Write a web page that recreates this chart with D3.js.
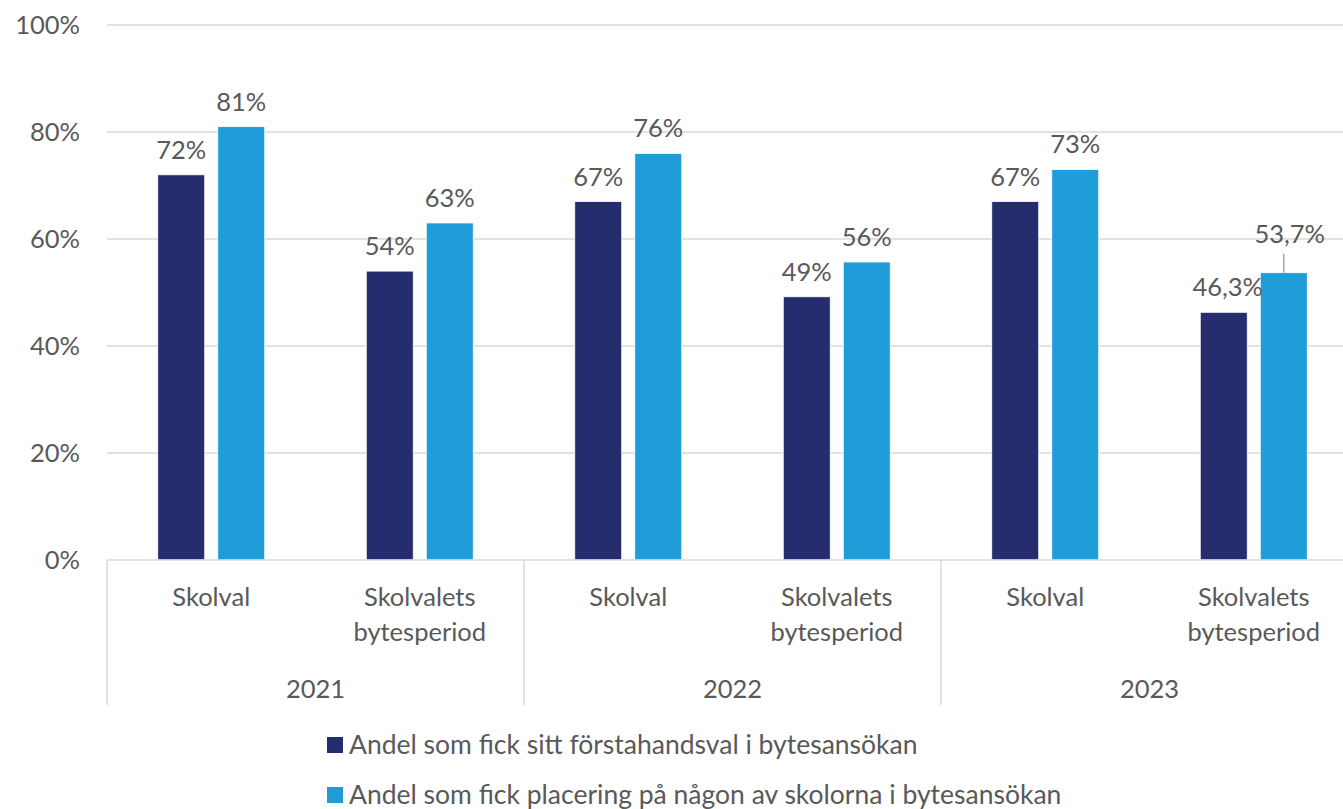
<!DOCTYPE html>
<html>
<head>
<meta charset="utf-8">
<script src="https://cdn.jsdelivr.net/npm/d3@7"></script>
<style>
    body { margin: 0; background: #fff; }
    svg { display: block; font-family: Lato, "Noto Sans", sans-serif; }
    text { fill: #595959; }
</style>
</head>
<body>
<svg id="chart" width="1343" height="809"></svg>
<script>
// data
const years = ["2021", "2022", "2023"];
const periods = ["Skolval", "Skolvalets bytesperiod"];
const seriesNames = [
    "Andel som fick sitt förstahandsval i bytesansökan",
    "Andel som fick placering på någon av skolorna i bytesansökan"
];
const firstChoice = [72, 54, 67, 49.2, 67, 46.3];
const anyChoice = [81, 63, 76, 55.7, 73, 53.7];
const firstLabels = ["72%", "54%", "67%", "49%", "67%", "46,3%"];
const anyLabels = ["81%", "63%", "76%", "56%", "73%", "53,7%"];
const yTicks = [0, 20, 40, 60, 80, 100];
const colors = ["#262d6e", "#1e9dd9"];

let svg = d3.select("#chart");
let plotLeft = 107, plotRight = 1358, plotTop = 25, plotBottom = 560;
let fs = 25.5;

let cats = [];
years.forEach(yr => periods.forEach(p => cats.push(yr + "|" + p)));

let x = d3.scaleBand().domain(cats).range([plotLeft, plotRight]);
let x1 = d3.scaleBand().domain([0, 1]).range([0, x.bandwidth()]).paddingInner(0.217).paddingOuter(0.846);
let y = d3.scaleLinear().domain([0, 100]).range([plotBottom, plotTop]);

// gridlines
svg.append("g").selectAll("line")
    .data(yTicks.filter(d => d > 0))
    .enter().append("line")
    .attr("x1", plotLeft).attr("x2", 1343)
    .attr("y1", d => y(d)).attr("y2", d => y(d))
    .attr("stroke", "#d9d9d9").attr("stroke-width", 1.5);

// y tick labels
svg.append("g").selectAll("text")
    .data(yTicks)
    .enter().append("text")
    .attr("x", 80).attr("y", d => y(d))
    .attr("dy", "0.35em")
    .attr("text-anchor", "end")
    .attr("font-size", fs)
    .text(d => d + "%");

// bars
let series = [firstChoice, anyChoice];
let labels = [firstLabels, anyLabels];
series.forEach((vals, s) => {
    svg.append("g").selectAll("rect")
        .data(vals)
        .enter().append("rect")
        .attr("x", (d, i) => x(cats[i]) + x1(s))
        .attr("width", x1.bandwidth())
        .attr("y", d => y(d))
        .attr("height", d => y(0) - y(d))
        .attr("fill", colors[s])
        .attr("stroke", "#fff").attr("stroke-width", 0.8);
});

// value labels
series.forEach((vals, s) => {
    svg.append("g").selectAll("text")
        .data(vals)
        .enter().append("text")
        .attr("x", (d, i) => x(cats[i]) + x1(s) + x1.bandwidth() / 2 + (i === 5 && s === 0 ? 4 : 0) + (i === 5 && s === 1 ? 6 : 0))
        .attr("y", (d, i) => y(d) - (i === 5 && s === 1 ? 30 : 16))
        .attr("text-anchor", "middle")
        .attr("font-size", fs)
        .text((d, i) => labels[s][i]);
});

// leader line for the last label
let lastX = x(cats[5]) + x1(1) + x1.bandwidth() / 2;
svg.append("line")
    .attr("x1", lastX).attr("x2", lastX)
    .attr("y1", y(anyChoice[5]) - 19).attr("y2", y(anyChoice[5]))
    .attr("stroke", "#a6a6a6").attr("stroke-width", 1.5);

// x axis line and year separators
svg.append("line")
    .attr("x1", plotLeft).attr("x2", 1343)
    .attr("y1", plotBottom).attr("y2", plotBottom)
    .attr("stroke", "#d9d9d9").attr("stroke-width", 1.5);

let yearW = (plotRight - plotLeft) / years.length;
svg.append("g").selectAll("line")
    .data(d3.range(years.length + 1))
    .enter().append("line")
    .attr("x1", d => plotLeft + d * yearW).attr("x2", d => plotLeft + d * yearW)
    .attr("y1", plotBottom).attr("y2", 705)
    .attr("stroke", "#d9d9d9").attr("stroke-width", 1.5);

// category labels
let catText = svg.append("g").selectAll("text")
    .data(cats)
    .enter().append("text")
    .attr("text-anchor", "middle")
    .attr("font-size", fs)
    .attr("x", d => x(d) + x.bandwidth() / 2)
    .attr("y", 606);
catText.each(function(d) {
    let words = d.split("|")[1].split(" ");
    let t = d3.select(this);
    words.forEach((w, k) => {
        t.append("tspan")
            .attr("x", t.attr("x"))
            .attr("dy", k === 0 ? 0 : 35)
            .text(w);
    });
});

// year labels
svg.append("g").selectAll("text")
    .data(years)
    .enter().append("text")
    .attr("text-anchor", "middle")
    .attr("font-size", fs)
    .attr("x", (d, i) => plotLeft + (i + 0.5) * yearW)
    .attr("y", 698)
    .text(d => d);

// legend
let legend = svg.append("g").selectAll("g")
    .data(seriesNames)
    .enter().append("g")
    .attr("transform", (d, i) => "translate(327," + (745 + i * 50) + ")");
legend.append("rect")
    .attr("x", 0).attr("y", -8)
    .attr("width", 16).attr("height", 16)
    .attr("fill", (d, i) => colors[i]);
legend.append("text")
    .attr("x", 22).attr("dy", "0.35em")
    .attr("font-size", 26.5)
    .text(d => d);
</script>
</body>
</html>
